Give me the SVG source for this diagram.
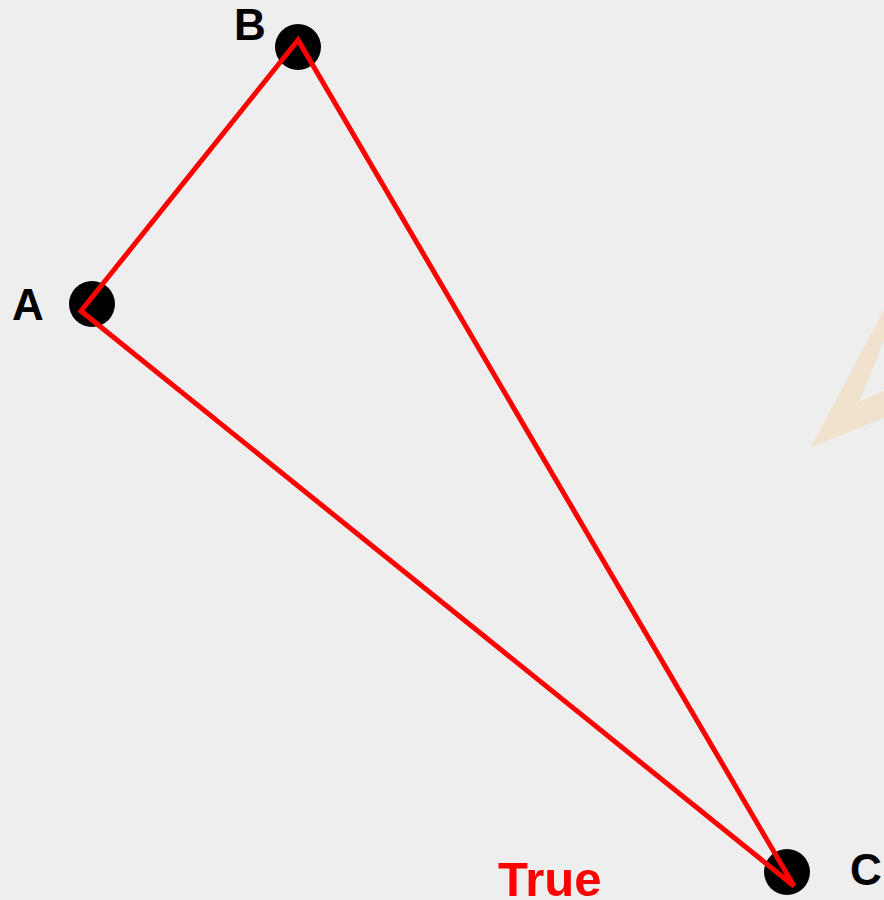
<svg xmlns="http://www.w3.org/2000/svg" width="884" height="900" viewBox="0 0 884 900">
<style>
.pt{fill:#000}
.lbl{font-family:"Liberation Sans",Arial,sans-serif;font-weight:bold;font-size:44px;fill:#000}
.edge{stroke:#ff0000;stroke-width:5;fill:none;stroke-linejoin:miter}
</style>
<rect width="884" height="900" fill="#eeeeee"/>
<polygon points="811,447 884,310 884,340 859,402 884,391 884,418" fill="#f0e2cc"/>
<g id="node-A"><circle class="pt" cx="92" cy="304" r="23"/><text class="lbl" x="12" y="320">A</text></g>
<g id="node-B"><circle class="pt" cx="298" cy="47" r="23"/><text class="lbl" x="234" y="40">B</text></g>
<g id="node-C"><circle class="pt" cx="787" cy="872" r="23"/><text class="lbl" x="850" y="885">C</text></g>
<g id="connectors">
<polygon class="edge" points="298,40 81,311 794,886"/>
</g>
<text x="498" y="896" font-family="Liberation Sans, Arial, sans-serif" font-weight="bold" font-size="49" fill="#ff0000">True</text>
</svg>
